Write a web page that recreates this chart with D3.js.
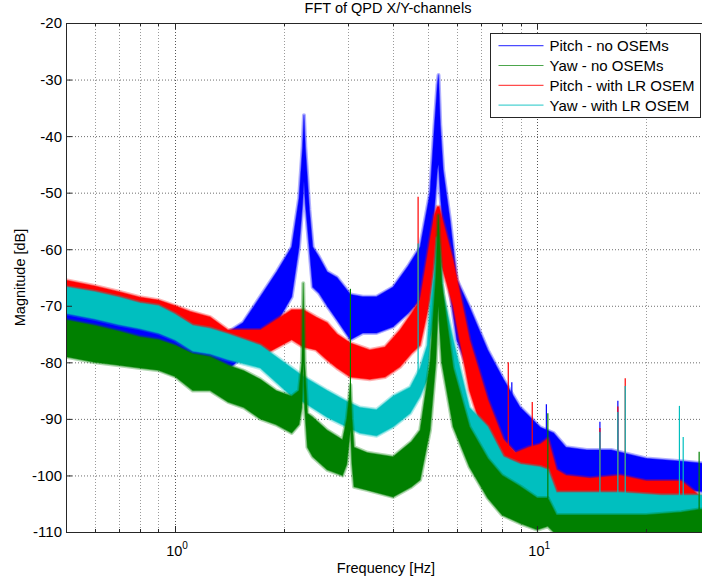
<!DOCTYPE html>
<html>
<head>
<meta charset="utf-8">
<script src="https://cdn.jsdelivr.net/npm/d3@7"></script>
<style>
  body { margin: 0; background: #fff; }
  text { font-family: "Liberation Sans", Arial, sans-serif; fill: #000; }
</style>
</head>
<body>
<div id="chart"></div>
<script>
// Values: each series is an envelope (low / high in dB) at given frequencies
var pitchNoFreq = [0.5, 0.6, 0.7, 0.8, 0.9, 1.0, 1.1, 1.2, 1.3, 1.39, 1.54, 1.72, 1.91, 2.1, 2.2, 2.25, 2.27, 2.29, 2.35, 2.4, 2.5, 2.63, 2.8, 3.05, 3.3, 3.6, 4.0, 4.4, 4.75, 5.06, 5.2, 5.3, 5.34, 5.4, 5.5, 5.75, 6.0, 6.5, 7.3, 8.07, 8.96, 10.2, 11.1, 12, 13.7, 16, 20, 25, 30];
var pitchNoHigh = [-67.5, -70.5, -71.5, -72.5, -74, -74.5, -75, -76, -76, -74.8, -73, -68.4, -64, -59.6, -51, -42, -36.3, -42, -53, -59.6, -61.4, -64, -65, -68, -68.4, -68.4, -66.7, -63, -59.6, -50, -38.4, -31, -29.2, -38, -46, -55, -65.4, -70.2, -77.8, -83, -87.9, -91.5, -92.5, -95, -95.5, -95.5, -97, -97.5, -98];
var pitchNoLow = [-74, -75.5, -77, -78.5, -80, -80.5, -81.5, -83, -82.5, -81.4, -79, -76, -73, -68.4, -59.6, -52, -48, -52, -60, -66.7, -67.8, -70, -72.5, -76, -74.8, -74.8, -73.7, -71.3, -69, -62, -53, -46, -45, -50, -57, -67.7, -76, -81.9, -89, -93.7, -96.7, -99, -100.8, -101.7, -101, -101.7, -102, -102.5, -103];

var yawNoFreq = [0.5, 0.6, 0.7, 0.8, 0.9, 1.0, 1.12, 1.25, 1.4, 1.55, 1.72, 1.9, 2.1, 2.2, 2.24, 2.26, 2.28, 2.32, 2.4, 2.63, 2.9, 2.98, 3.05, 3.08, 3.12, 3.4, 4.0, 4.5, 4.75, 5.06, 5.25, 5.33, 5.45, 5.86, 6.5, 7.3, 8.0, 9.0, 10.0, 10.7, 11.3, 14, 20, 25, 28, 30];
var yawNoHigh = [-72.5, -73.5, -74.5, -75.5, -76, -77, -78.5, -79, -80.5, -81.5, -83, -85, -86, -85, -80, -66, -80, -89, -89.7, -92, -93.7, -90, -84, -90, -95, -96, -96.7, -94, -92, -80, -65, -54, -66, -81, -91.4, -97, -100, -102, -104, -104, -107, -107, -107, -106.5, -106, -106];
var yawNoLow = [-79, -80, -80.5, -81, -81.4, -82.5, -85, -85, -87, -88, -90, -91, -92.5, -91, -88, -80, -88, -95, -96.7, -99, -100, -98, -92, -98, -102, -102.6, -103.8, -102, -100.8, -92, -80, -70, -80, -91.4, -98.5, -104, -107, -108.5, -109.6, -109, -110.5, -111, -111, -111, -111, -111];

var pitchLRFreq = [0.5, 0.6, 0.7, 0.8, 0.9, 1.0, 1.1, 1.25, 1.4, 1.55, 1.72, 1.9, 2.1, 2.26, 2.45, 2.63, 2.8, 3.05, 3.45, 3.8, 4.18, 4.5, 4.75, 5.06, 5.2, 5.3, 5.36, 5.45, 5.86, 6.5, 7.3, 8.07, 8.7, 9.5, 10.2, 10.7, 11.3, 12, 14, 17, 20, 25, 28, 30];
var pitchLRHigh = [-65.5, -66.5, -67.5, -68.5, -69, -70, -71, -72, -74.3, -74.3, -74.3, -72.5, -70.7, -70.7, -72, -73, -75, -76.6, -77.8, -77.3, -74.3, -71.3, -69, -58.4, -54, -52.5, -52.5, -54.3, -62, -76, -86.6, -93.7, -96, -95, -94.5, -93.5, -99, -100, -100.5, -100, -101, -101, -103.5, -104];
var pitchLRLow = [-70, -71, -72.5, -73.5, -74.3, -75, -75.5, -76, -78.3, -78.4, -79, -77.5, -76, -77.3, -77.8, -79.6, -81, -82.6, -83, -82.6, -80.8, -78.4, -77, -69, -63, -60, -60, -63, -70, -85, -95, -100.8, -103, -102.5, -102, -101, -104.5, -104, -104, -104.5, -104, -104, -108, -108];

var yawLRFreq = [0.5, 0.6, 0.7, 0.8, 0.9, 1.0, 1.12, 1.25, 1.4, 1.72, 2.1, 2.26, 2.63, 3.0, 3.24, 3.6, 4.0, 4.46, 4.75, 4.97, 5.06, 5.2, 5.3, 5.36, 5.5, 5.86, 6.5, 7.3, 8.07, 9.0, 10.2, 10.7, 11.3, 13, 17, 22, 28, 30];
var yawLRHigh = [-66.7, -67.5, -68.5, -69.5, -70, -71.5, -73.5, -74, -75, -77, -81, -82.5, -85, -87, -88, -88.4, -86, -84.4, -81, -77, -70, -64, -58, -60, -68, -76, -88, -91.4, -96.7, -98, -98.5, -99, -103, -103, -103, -103.5, -103.5, -103.5];
var yawLRLow = [-71.3, -72.3, -73.3, -74, -74.8, -76, -78, -78.5, -79.5, -81, -86, -87, -89.7, -91.5, -92.5, -93, -91.4, -89, -86, -83, -76, -72, -68, -70, -77, -83, -93.7, -98.5, -102.6, -104.5, -105.5, -104, -108, -108.5, -109, -109, -109.5, -109.5];

// narrow single-line spikes: frequency, base and top (dB)
var pitchNoSpikeFreq = [7.27, 8.51, 10.6, 14.9, 16.7];
var pitchNoSpikeBase = [-88, -93, -96, -97, -97];
var pitchNoSpikeTop = [-78.7, -83.5, -87.4, -90.5, -86.8];
var yawNoSpikeFreq = [3.05, 10.7, 28];
var yawNoSpikeBase = [-90, -104, -106];
var yawNoSpikeTop = [-67, -89, -95.8];
var pitchLRSpikeFreq = [4.69, 8.32, 9.69, 14.9, 16.7, 17.5];
var pitchLRSpikeBase = [-73, -97, -98, -101, -101, -101];
var pitchLRSpikeTop = [-50.7, -80, -87, -91.6, -87.8, -82.8];
var yawLRSpikeFreq = [4.69, 14.9, 16.7, 17.5, 24.7, 25.3];
var yawLRSpikeBase = [-85, -104, -104, -104, -104, -104];
var yawLRSpikeTop = [-59, -92.3, -88.8, -84.2, -87.7, -93.2];

var yTicks = [-110, -100, -90, -80, -70, -60, -50, -40, -30, -20];
var xMajor = [1, 10];
var xMinor = [0.6, 0.7, 0.8, 0.9, 2, 3, 4, 5, 6, 7, 8, 9, 20, 30];

var series = [
  {name: "Pitch - no OSEMs", color: "#0000ff", f: pitchNoFreq, lo: pitchNoLow, hi: pitchNoHigh,
   sf: pitchNoSpikeFreq, sb: pitchNoSpikeBase, st: pitchNoSpikeTop},
  {name: "Yaw - no OSEMs", color: "#008000", f: yawNoFreq, lo: yawNoLow, hi: yawNoHigh,
   sf: yawNoSpikeFreq, sb: yawNoSpikeBase, st: yawNoSpikeTop},
  {name: "Pitch - with LR OSEM", color: "#ff0000", f: pitchLRFreq, lo: pitchLRLow, hi: pitchLRHigh,
   sf: pitchLRSpikeFreq, sb: pitchLRSpikeBase, st: pitchLRSpikeTop},
  {name: "Yaw - with LR OSEM", color: "#00bfbf", f: yawLRFreq, lo: yawLRLow, hi: yawLRHigh,
   sf: yawLRSpikeFreq, sb: yawLRSpikeBase, st: yawLRSpikeTop}
];
// drawing order seen in the picture (green ends up on top)
var drawOrder = [0, 2, 3, 1];

var margin = {top: 23, left: 66},
    width = 644,
    height = 509;

var svg = d3.select("#chart")
  .append("svg")
  .attr("width", 702)
  .attr("height", 581)
  .style("display", "block");

var g = svg.append("g")
  .attr("transform", "translate(" + margin.left + "," + margin.top + ")");

var xScale = d3.scaleLog().domain([0.5, 30]).range([0, width]);
var yScale = d3.scaleLinear().domain([-110, -20]).range([height, 0]);

g.append("clipPath").attr("id", "plotclip")
  .append("rect").attr("width", width).attr("height", height);

// grid
g.selectAll(".gy").data(yTicks.slice(1, -1)).enter()
  .append("line")
  .attr("x1", 0).attr("x2", width)
  .attr("y1", function(d) { return yScale(d) + 0.5; })
  .attr("y2", function(d) { return yScale(d) + 0.5; })
  .attr("stroke", "#6e6e6e").attr("stroke-width", 1)
  .attr("stroke-dasharray", "1,2");

g.selectAll(".gxm").data(xMinor).enter()
  .append("line")
  .attr("x1", function(d) { return Math.round(xScale(d)) + 0.5; })
  .attr("x2", function(d) { return Math.round(xScale(d)) + 0.5; })
  .attr("y1", 0).attr("y2", height)
  .attr("stroke", "#9a9a9a").attr("stroke-width", 1)
  .attr("stroke-dasharray", "1,2");

g.selectAll(".gxM").data(xMajor).enter()
  .append("line")
  .attr("x1", function(d) { return Math.round(xScale(d)) + 0.5; })
  .attr("x2", function(d) { return Math.round(xScale(d)) + 0.5; })
  .attr("y1", 0).attr("y2", height)
  .attr("stroke", "#555").attr("stroke-width", 1)
  .attr("stroke-dasharray", "1,2");

// data
var plot = g.append("g").attr("clip-path", "url(#plotclip)");

var area = d3.area()
  .x(function(d) { return xScale(d.f); })
  .y0(function(d) { return yScale(d.lo); })
  .y1(function(d) { return yScale(d.hi); });

drawOrder.forEach(function(k) {
  var s = series[k];
  var rows = s.f.map(function(f, i) { return {f: f, lo: s.lo[i], hi: s.hi[i]}; });
  var sg = plot.append("g");

  // soft fringe, then the dense core
  sg.append("path")
    .datum(rows)
    .attr("d", area)
    .attr("fill", "none")
    .attr("stroke", s.color)
    .attr("stroke-opacity", 0.3)
    .attr("stroke-width", 4)
    .attr("stroke-linejoin", "round");

  sg.append("path")
    .datum(rows)
    .attr("d", area)
    .attr("fill", s.color)
    .attr("stroke", s.color)
    .attr("stroke-opacity", 0.5)
    .attr("stroke-width", 1.5)
    .attr("stroke-linejoin", "round");

  var spikes = s.sf.map(function(f, i) { return {f: f, b: s.sb[i], t: s.st[i]}; });
  sg.selectAll(".spike").data(spikes).enter()
    .append("line")
    .attr("x1", function(d) { return xScale(d.f); })
    .attr("x2", function(d) { return xScale(d.f); })
    .attr("y1", function(d) { return yScale(d.b); })
    .attr("y2", function(d) { return yScale(d.t); })
    .attr("stroke", s.color)
    .attr("stroke-width", 1.2);
});

// axes box and ticks
g.append("line").attr("x1", 0.5).attr("x2", 0.5).attr("y1", 0).attr("y2", height)
  .attr("stroke", "#262626");
g.append("line").attr("x1", 0).attr("x2", width).attr("y1", 0.5).attr("y2", 0.5)
  .attr("stroke", "#262626");
g.append("line").attr("x1", 0).attr("x2", width).attr("y1", height + 0.5).attr("y2", height + 0.5)
  .attr("stroke", "#262626");

g.selectAll(".ty").data(yTicks).enter()
  .append("line")
  .attr("x1", 0).attr("x2", 6)
  .attr("y1", function(d) { return yScale(d) + 0.5; })
  .attr("y2", function(d) { return yScale(d) + 0.5; })
  .attr("stroke", "#262626");

[[xMajor, 6], [xMinor, 3]].forEach(function(p) {
  g.selectAll(null).data(p[0]).enter()
    .append("line")
    .attr("x1", function(d) { return Math.round(xScale(d)) + 0.5; })
    .attr("x2", function(d) { return Math.round(xScale(d)) + 0.5; })
    .attr("y1", height).attr("y2", height - p[1])
    .attr("stroke", "#262626");
  g.selectAll(null).data(p[0]).enter()
    .append("line")
    .attr("x1", function(d) { return Math.round(xScale(d)) + 0.5; })
    .attr("x2", function(d) { return Math.round(xScale(d)) + 0.5; })
    .attr("y1", 0).attr("y2", p[1])
    .attr("stroke", "#262626");
});

// tick labels
g.selectAll(".ly").data(yTicks).enter()
  .append("text")
  .attr("x", -4)
  .attr("y", function(d) { return yScale(d); })
  .attr("dy", "0.36em")
  .style("text-anchor", "end")
  .style("font-size", "15px")
  .text(function(d) { return d; });

var xl = g.selectAll(".lx").data(xMajor).enter()
  .append("text")
  .attr("x", function(d) { return xScale(d) + 2; })
  .attr("y", height + 24)
  .style("text-anchor", "middle")
  .style("font-size", "14.5px");
xl.append("tspan").text("10");
xl.append("tspan")
  .attr("dy", -7)
  .style("font-size", "10px")
  .text(function(d) { return Math.round(Math.log10(d)); });

// titles
svg.append("text")
  .attr("x", margin.left + width / 2)
  .attr("y", 12.5)
  .style("text-anchor", "middle")
  .style("font-size", "14.5px")
  .text("FFT of QPD X/Y-channels");

svg.append("text")
  .attr("x", margin.left + width / 2 - 2)
  .attr("y", 573)
  .style("text-anchor", "middle")
  .style("font-size", "14.5px")
  .text("Frequency [Hz]");

svg.append("text")
  .attr("transform", "translate(25," + (margin.top + height / 2) + ") rotate(-90)")
  .style("text-anchor", "middle")
  .style("font-size", "14.5px")
  .text("Magnitude [dB]");

// legend
var lg = svg.append("g").attr("transform", "translate(490.5,33.5)");
lg.append("rect")
  .attr("width", 210).attr("height", 84)
  .attr("fill", "#fff").attr("stroke", "#262626");

var items = lg.selectAll(".legend").data(series).enter()
  .append("g")
  .attr("transform", function(d, i) { return "translate(0," + (12.2 + i * 19.8) + ")"; });

items.append("line")
  .attr("x1", 8).attr("x2", 53)
  .attr("stroke", function(d) { return d.color; })
  .attr("stroke-opacity", 0.7)
  .attr("stroke-width", 1.2);

items.append("text")
  .attr("x", 59)
  .attr("dy", "0.36em")
  .style("font-size", "15px")
  .text(function(d) { return d.name; });
</script>
</body>
</html>
